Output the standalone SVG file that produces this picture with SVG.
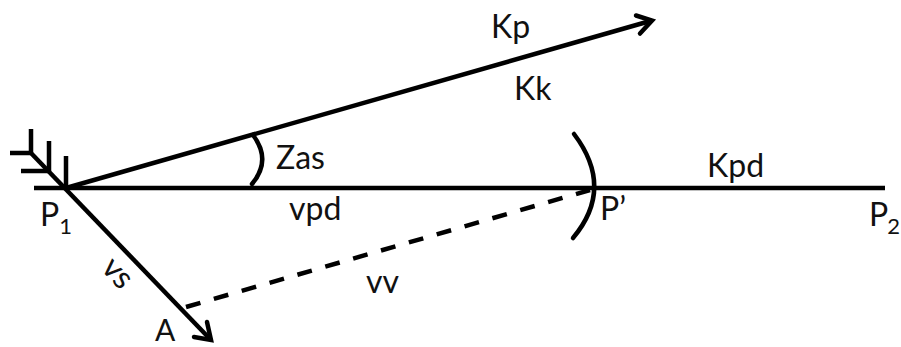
<svg xmlns="http://www.w3.org/2000/svg" width="901" height="347" viewBox="0 0 901 347">
<style>
.l{fill:none;stroke:#000;stroke-width:4.500;stroke-linejoin:miter}
.t{font-family:"Lato","Open Sans",sans-serif;font-size:32px;fill:#111}
.s{font-size:22px}
</style>
<rect width="901" height="347" fill="#fff"/>
<g id="connectors">
<path class="l" d="M34 188H885"/>
<path class="l" d="M66 188L652 20.500"/>
<path class="l" d="M636 15.500L652 20.500L640 33.500" stroke-linecap="round"/>
<path class="l" d="M30 152L211 340"/>
<path class="l" d="M207 322L211 340L194 337" stroke-linecap="round"/>
<path class="l" d="M186 307L590 190" stroke-dasharray="15 14"/>
<path class="l" d="M31 129V153M10 153H31M49 141V171M21 171H49M66 156V188" stroke-width="4"/>
<path class="l" d="M253 135Q272 160 252 184" stroke-width="3.500" stroke-linecap="round"/>
<path class="l" d="M574 134Q615 188 573 238" stroke-linecap="round"/>
</g>
<g id="labels">
<text class="t" x="491" y="38">Kp</text>
<text class="t" x="514" y="100">Kk</text>
<text class="t" x="276" y="169">Zas</text>
<text class="t" x="707" y="177">Kpd</text>
<text class="t" x="289" y="220">vpd</text>
<text class="t" x="600" y="220">P’</text>
<text class="t" x="40" y="226">P<tspan class="s" dx="0" dy="8">1</tspan></text>
<text class="t" x="869" y="226">P<tspan class="s" dx="-1" dy="8">2</tspan></text>
<text class="t" x="366" y="293">vv</text>
<text class="t" x="155" y="341" style="font-size:30px">A</text>
<text class="t" transform="translate(100 269) rotate(47)" x="0" y="0">vs</text>
</g>
</svg>
